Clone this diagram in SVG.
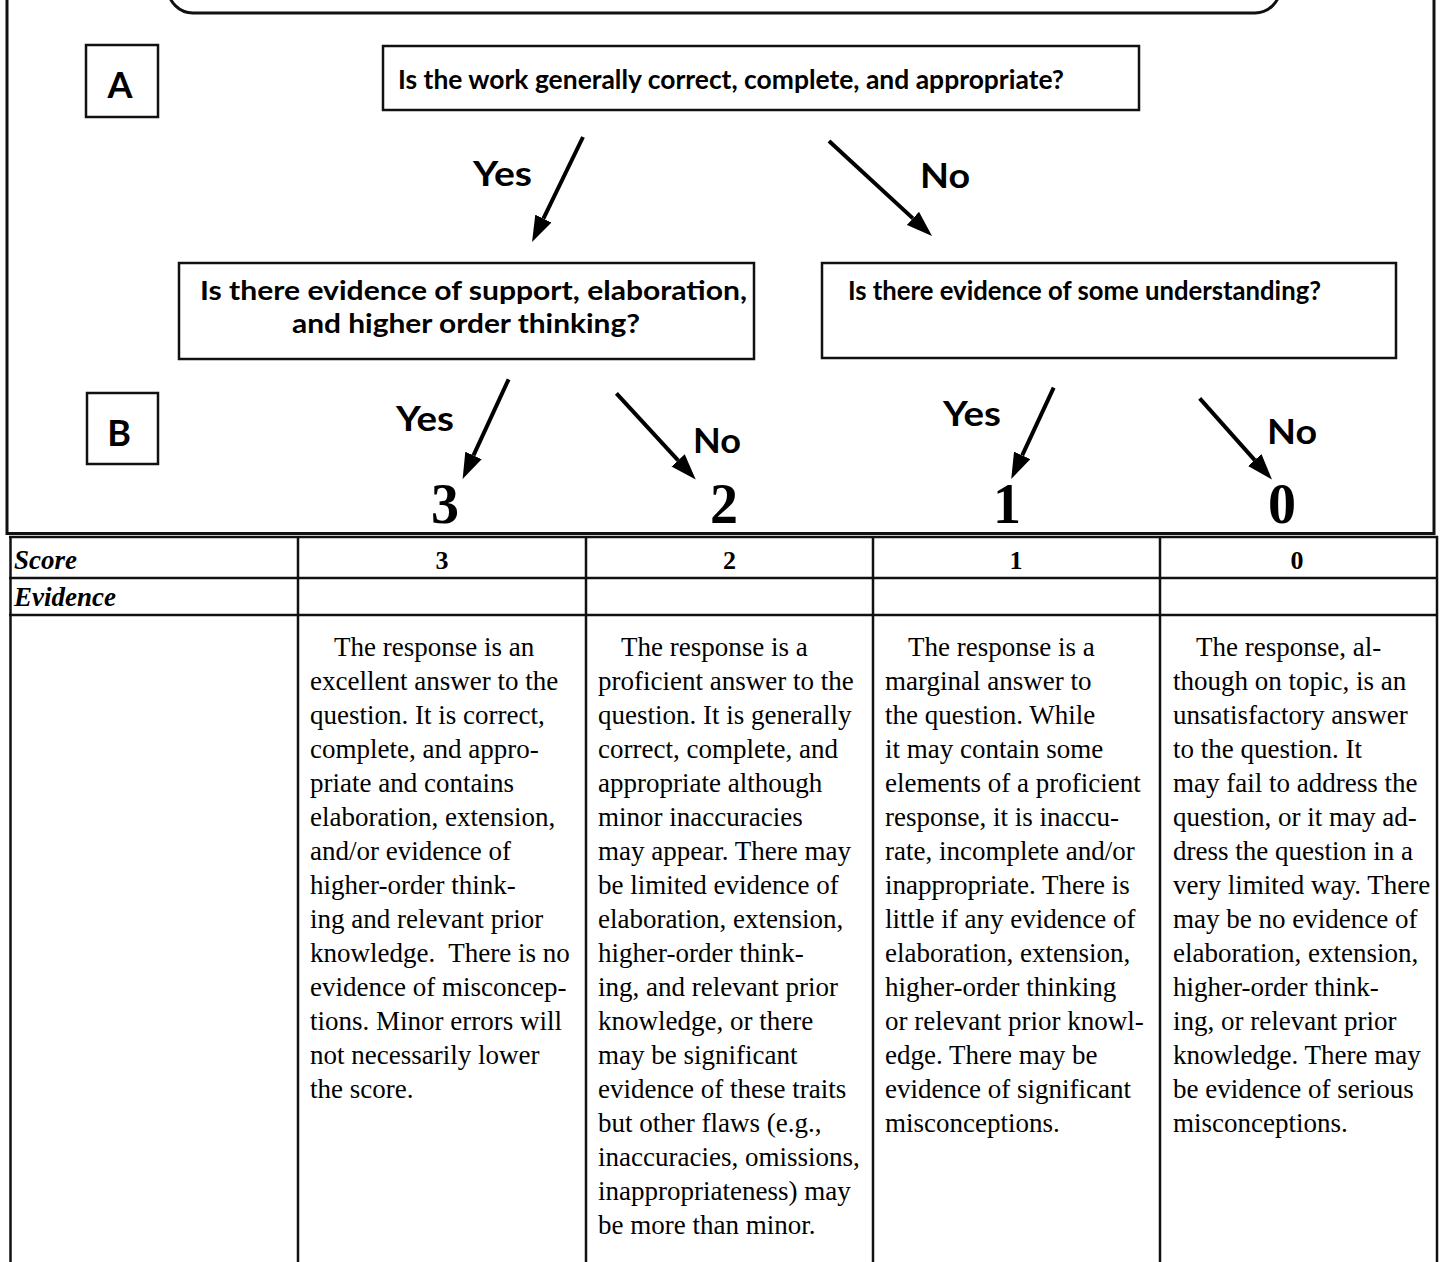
<svg xmlns="http://www.w3.org/2000/svg" width="1440" height="1262" viewBox="0 0 1440 1262">
<defs>
<style>
.box{fill:#fff;stroke:#111;stroke-width:2.5}
.frame{fill:none;stroke:#111;stroke-width:3}
.q{font-family:Lato,"Open Sans","DejaVu Sans",sans-serif;font-weight:700;font-size:26px;fill:#000}
.yn{font-family:Lato,"Open Sans","DejaVu Sans",sans-serif;font-weight:700;font-size:34px;fill:#000}
.lbl{font-family:Lato,"Open Sans","DejaVu Sans",sans-serif;font-weight:700;font-size:36px;fill:#000;text-anchor:middle}
.big{font-family:"Liberation Serif",serif;font-weight:700;font-size:56px;fill:#000;text-anchor:middle}
.hdr{font-family:"Liberation Serif",serif;font-style:italic;font-weight:700;font-size:27px;fill:#000}
.num{font-family:"Liberation Serif",serif;font-weight:700;font-size:26px;fill:#000;text-anchor:middle}
.body{font-family:"Liberation Serif",serif;font-size:27px;fill:#000;white-space:pre}
.tl{stroke:#111;stroke-width:2.5;fill:none}
.arrow{stroke:#000;stroke-width:4;fill:none;marker-end:url(#ah)}
</style>
<marker id="ah" markerUnits="userSpaceOnUse" viewBox="0 0 26 18" markerWidth="26" markerHeight="18" refX="0" refY="9" orient="auto">
<path d="M0,0 L26,9 L0,18 z" fill="#000"/>
</marker>
</defs>
<rect width="1440" height="1262" fill="#fff"/>

<g id="frame">
<path class="frame" d="M7,-5 V533.5 H1434 V-5"/>
<rect class="frame" x="168" y="-37" width="1112" height="50" rx="25" ry="25"/>
</g>

<g id="label-A">
<rect class="box" x="86" y="45" width="72" height="72"/>
<text class="lbl" x="120" y="98">A</text>
</g>

<g id="q1">
<rect class="box" x="383" y="46" width="756" height="64"/>
<text class="q" x="398" y="89" textLength="666" lengthAdjust="spacingAndGlyphs">Is the work generally correct, complete, and appropriate?</text>
</g>

<g id="q2">
<rect class="box" x="179" y="263" width="575" height="96"/>
<text class="q" x="200" y="300" textLength="547" lengthAdjust="spacingAndGlyphs">Is there evidence of support, elaboration,</text>
<text class="q" x="292" y="333" textLength="348" lengthAdjust="spacingAndGlyphs">and higher order thinking?</text>
</g>

<g id="q3">
<rect class="box" x="822" y="263" width="574" height="95"/>
<text class="q" x="848" y="300" textLength="473" lengthAdjust="spacingAndGlyphs">Is there evidence of some understanding?</text>
</g>

<g id="label-B">
<rect class="box" x="87" y="393" width="71" height="71"/>
<text class="lbl" x="119" y="446">B</text>
</g>

<g id="score-3"><text class="big" x="445" y="523">3</text></g>
<g id="score-2"><text class="big" x="724" y="523">2</text></g>
<g id="score-1"><text class="big" x="1007" y="523">1</text></g>
<g id="score-0"><text class="big" x="1282" y="523">0</text></g>

<g id="connectors">
<line class="arrow" x1="583" y1="137" x2="543.4" y2="218.6"/>
<line class="arrow" x1="829" y1="141" x2="912.9" y2="218.4"/>
<line class="arrow" x1="508.6" y1="379.3" x2="473.5" y2="455.4"/>
<line class="arrow" x1="616.4" y1="393.3" x2="678.1" y2="460.4"/>
<line class="arrow" x1="1053.7" y1="387.7" x2="1022.2" y2="455.4"/>
<line class="arrow" x1="1199.7" y1="398.3" x2="1254.7" y2="460.1"/>
<text class="yn" x="473" y="186" textLength="59" lengthAdjust="spacingAndGlyphs">Yes</text>
<text class="yn" x="920" y="188" textLength="50" lengthAdjust="spacingAndGlyphs">No</text>
<text class="yn" x="396" y="431" textLength="58" lengthAdjust="spacingAndGlyphs">Yes</text>
<text class="yn" x="693" y="453" textLength="48" lengthAdjust="spacingAndGlyphs">No</text>
<text class="yn" x="943" y="426" textLength="58" lengthAdjust="spacingAndGlyphs">Yes</text>
<text class="yn" x="1267" y="444" textLength="50" lengthAdjust="spacingAndGlyphs">No</text>
</g>

<g id="table">
<line class="tl" x1="9" y1="537" x2="1438" y2="537"/>
<line class="tl" x1="9" y1="578" x2="1438" y2="578"/>
<line class="tl" x1="9" y1="615" x2="1438" y2="615"/>
<line class="tl" x1="10.5" y1="536" x2="10.5" y2="1262"/>
<line class="tl" x1="298" y1="536" x2="298" y2="1262"/>
<line class="tl" x1="586" y1="536" x2="586" y2="1262"/>
<line class="tl" x1="873" y1="536" x2="873" y2="1262"/>
<line class="tl" x1="1160" y1="536" x2="1160" y2="1262"/>
<line class="tl" x1="1437" y1="536" x2="1437" y2="1262"/>
<text class="hdr" x="14" y="569">Score</text>
<text class="hdr" x="14" y="606">Evidence</text>
<text class="num" x="442" y="569">3</text>
<text class="num" x="729.5" y="569">2</text>
<text class="num" x="1016" y="569">1</text>
<text class="num" x="1297" y="569">0</text>

<text class="body" y="656">
<tspan x="334" y="656">The response is an</tspan>
<tspan x="310" dy="34">excellent answer to the</tspan>
<tspan x="310" dy="34">question. It is correct,</tspan>
<tspan x="310" dy="34">complete, and appro-</tspan>
<tspan x="310" dy="34">priate and contains</tspan>
<tspan x="310" dy="34">elaboration, extension,</tspan>
<tspan x="310" dy="34">and/or evidence of</tspan>
<tspan x="310" dy="34">higher-order think-</tspan>
<tspan x="310" dy="34">ing and relevant prior</tspan>
<tspan x="310" dy="34">knowledge.  There is no</tspan>
<tspan x="310" dy="34">evidence of misconcep-</tspan>
<tspan x="310" dy="34">tions. Minor errors will</tspan>
<tspan x="310" dy="34">not necessarily lower</tspan>
<tspan x="310" dy="34">the score.</tspan>
</text>

<text class="body" y="656">
<tspan x="621" y="656">The response is a</tspan>
<tspan x="598" dy="34">proficient answer to the</tspan>
<tspan x="598" dy="34">question. It is generally</tspan>
<tspan x="598" dy="34">correct, complete, and</tspan>
<tspan x="598" dy="34">appropriate although</tspan>
<tspan x="598" dy="34">minor inaccuracies</tspan>
<tspan x="598" dy="34">may appear. There may</tspan>
<tspan x="598" dy="34">be limited evidence of</tspan>
<tspan x="598" dy="34">elaboration, extension,</tspan>
<tspan x="598" dy="34">higher-order think-</tspan>
<tspan x="598" dy="34">ing, and relevant prior</tspan>
<tspan x="598" dy="34">knowledge, or there</tspan>
<tspan x="598" dy="34">may be significant</tspan>
<tspan x="598" dy="34">evidence of these traits</tspan>
<tspan x="598" dy="34">but other flaws (e.g.,</tspan>
<tspan x="598" dy="34">inaccuracies, omissions,</tspan>
<tspan x="598" dy="34">inappropriateness) may</tspan>
<tspan x="598" dy="34">be more than minor.</tspan>
</text>

<text class="body" y="656">
<tspan x="908" y="656">The response is a</tspan>
<tspan x="885" dy="34">marginal answer to</tspan>
<tspan x="885" dy="34">the question. While</tspan>
<tspan x="885" dy="34">it may contain some</tspan>
<tspan x="885" dy="34">elements of a proficient</tspan>
<tspan x="885" dy="34">response, it is inaccu-</tspan>
<tspan x="885" dy="34">rate, incomplete and/or</tspan>
<tspan x="885" dy="34">inappropriate. There is</tspan>
<tspan x="885" dy="34">little if any evidence of</tspan>
<tspan x="885" dy="34">elaboration, extension,</tspan>
<tspan x="885" dy="34">higher-order thinking</tspan>
<tspan x="885" dy="34">or relevant prior knowl-</tspan>
<tspan x="885" dy="34">edge. There may be</tspan>
<tspan x="885" dy="34">evidence of significant</tspan>
<tspan x="885" dy="34">misconceptions.</tspan>
</text>

<text class="body" y="656">
<tspan x="1196" y="656">The response, al-</tspan>
<tspan x="1173" dy="34">though on topic, is an</tspan>
<tspan x="1173" dy="34">unsatisfactory answer</tspan>
<tspan x="1173" dy="34">to the question. It</tspan>
<tspan x="1173" dy="34">may fail to address the</tspan>
<tspan x="1173" dy="34">question, or it may ad-</tspan>
<tspan x="1173" dy="34">dress the question in a</tspan>
<tspan x="1173" dy="34">very limited way. There</tspan>
<tspan x="1173" dy="34">may be no evidence of</tspan>
<tspan x="1173" dy="34">elaboration, extension,</tspan>
<tspan x="1173" dy="34">higher-order think-</tspan>
<tspan x="1173" dy="34">ing, or relevant prior</tspan>
<tspan x="1173" dy="34">knowledge. There may</tspan>
<tspan x="1173" dy="34">be evidence of serious</tspan>
<tspan x="1173" dy="34">misconceptions.</tspan>
</text>
</g>
</svg>
